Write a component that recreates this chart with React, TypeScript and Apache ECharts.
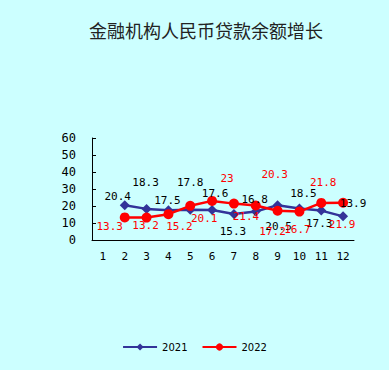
import React, { useEffect, useRef } from "react";
import * as echarts from "echarts";

const months = ["1", "2", "3", "4", "5", "6", "7", "8", "9", "10", "11", "12"];
const s2021: (number | null)[] = [null, 20.4, 18.3, 17.5, 17.8, 17.6, 15.3, 16.8, 20.5, 18.5, 17.3, 13.9];
const s2022: (number | null)[] = [null, 13.3, 13.2, 15.2, 20.1, 23, 21.4, 20.3, 17.2, 16.7, 21.8, 21.9];
const yTicks = [0, 10, 20, 30, 40, 50, 60];

// label offsets (styling, px) relative to each point
const off2021: number[][] = [[0, 0], [-7, -9], [-1, -26], [-1, -10], [0, -27], [3, -17], [-1, 18], [-1, -12], [1, 21], [4, -15], [-2, 13], [10, -13]];
const off2022: number[][] = [[0, 0], [-15, 9], [-1, 8], [11, 12], [14, 13], [15, -22], [12, 13], [19, -31], [-5, 21], [-2, 18], [2, -20], [-1, 22]];

const labelFont = "'DejaVu Sans Mono', monospace";

function build(vals: (number | null)[], offs: number[][], color: string) {
  return vals.map((v, i) =>
    v == null
      ? null
      : {
          value: v,
          label: {
            show: true,
            position: "inside",
            offset: offs[i],
            color,
            fontFamily: labelFont,
            fontSize: 11,
            formatter: String(v),
          },
        }
  );
}

export default function App() {
  const ref = useRef<HTMLDivElement>(null);
  useEffect(() => {
    const chart = echarts.init(ref.current!, null, { renderer: "svg" });
    chart.setOption({
      animation: false,
      backgroundColor: "#CCFFFF",
      title: {
        text: "金融机构人民币贷款余额增长",
        left: 84,
        top: 16,
        textStyle: {
          fontFamily: "'Noto Sans CJK SC'",
          fontSize: 18,
          fontWeight: "normal",
          color: "#222",
        },
      },
      legend: {
        bottom: 13,
        left: "center",
        itemWidth: 34,
        itemHeight: 9,
        itemGap: 14,
        textStyle: { fontSize: 10, color: "#000", fontFamily: "'DejaVu Sans'" },
        data: ["2021", "2022"],
      },
      grid: { left: 92, right: 35, top: 138, bottom: 130 },
      xAxis: {
        type: "category",
        data: months,
        boundaryGap: true,
        axisLine: { lineStyle: { color: "#000", width: 1 } },
        axisTick: { inside: true, length: 4, lineStyle: { color: "#000" } },
        axisLabel: { color: "#000", fontFamily: labelFont, fontSize: 11, margin: 11 },
      },
      yAxis: {
        type: "value",
        min: yTicks[0],
        max: yTicks[yTicks.length - 1],
        interval: 10,
        splitLine: { show: false },
        axisLine: { show: true, lineStyle: { color: "#000", width: 1 } },
        axisTick: { show: true, inside: true, length: 4, lineStyle: { color: "#000" } },
        axisLabel: { color: "#000", fontFamily: labelFont, fontSize: 12, margin: 16 },
      },
      series: [
        {
          name: "2021",
          type: "line",
          data: build(s2021, off2021, "#000"),
          symbol: "diamond",
          symbolSize: 10,
          itemStyle: { color: "#333399" },
          lineStyle: { color: "#333399", width: 2.5 },
        },
        {
          name: "2022",
          type: "line",
          data: build(s2022, off2022, "#FF0000"),
          symbol: "circle",
          symbolSize: 10,
          itemStyle: { color: "#FF0000" },
          lineStyle: { color: "#FF0000", width: 2.5 },
        },
      ],
    });
    return () => chart.dispose();
  }, []);
  return (
    <div
      ref={ref}
      style={{ position: "fixed", left: 0, top: 0, width: 389, height: 370 }}
    />
  );
}
